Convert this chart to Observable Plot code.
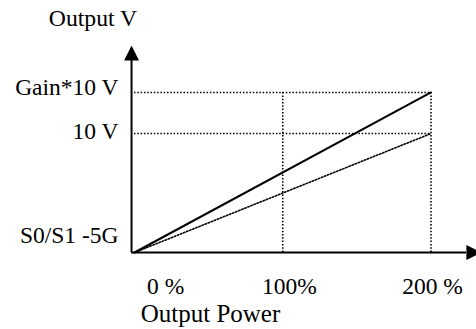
<!DOCTYPE html>
<html>
<head>
<meta charset="utf-8">
<script src="https://cdn.jsdelivr.net/npm/d3@7"></script>
<script src="https://cdn.jsdelivr.net/npm/@observablehq/plot@0.6"></script>
<style>
  html, body { margin: 0; padding: 0; background: white; }
</style>
</head>
<body>
<div id="chart"></div>
<script>
// ---- data ----
const powerPoints = [0, 200];          // Output power, %
const gainOutput = [0, 13.45];         // Output V with gain (solid line)
const normalOutput = [0, 10];          // Output V without gain (dotted line)
const yLevels = [13.45, 10];           // Gain*10 V, 10 V
const guideX = [100, 200];             // vertical guides, %
const xTickLabels = ["0 %", "100%", "200 %"];
const xLabelAt = [21, 104.5, 201];
const yTickLabels = ["Gain*10 V", "10 V", "S0/S1 -5G"];
const yLabelAt = [13.9, 10.2, 1.47];
const axisX = [-2, 234];
const axisY = [0, 17.4];
const yTitle = "Output V";
const xTitle = "Output Power";

const gainLine = powerPoints.map((p, i) => ({x: p, y: gainOutput[i]}));
const normalLine = powerPoints.map((p, i) => ({x: p, y: normalOutput[i]}));

const arrowHead = {
  draw(ctx) {
    ctx.moveTo(0, 0);
    ctx.lineTo(-7.5, 15);
    ctx.lineTo(7.5, 15);
    ctx.closePath();
  }
};

const dotted = {stroke: "black", strokeWidth: 1.6, strokeDasharray: "1.5,1.8"};
const serif = "Liberation Serif, Times New Roman, serif";

const chart = Plot.plot({
  width: 476,
  height: 329,
  marginLeft: 134,
  marginRight: 45.5,
  marginTop: 45,
  marginBottom: 77,
  x: {domain: [0, 200], axis: null},
  y: {domain: [0, 17.4], axis: null},
  style: {fontFamily: serif, background: "white", color: "black", overflow: "visible"},
  marks: [
    // guides
    Plot.ruleY(yLevels, {x1: 0, x2: powerPoints[1], ...dotted}),
    Plot.ruleX(guideX, {y1: 0, y2: yLevels[0], ...dotted}),
    // series
    Plot.line(normalLine, {x: "x", y: "y", ...dotted}),
    Plot.line(gainLine, {x: "x", y: "y", stroke: "black", strokeWidth: 2}),
    // axes
    Plot.ruleY([axisY[0]], {x1: axisX[0], x2: axisX[1] - 10, stroke: "black", strokeWidth: 2}),
    Plot.ruleX([axisX[0]], {y1: axisY[0], y2: axisY[1] - 0.8, stroke: "black", strokeWidth: 2}),
    Plot.dot([0], {x: axisX[0], y: axisY[1], symbol: arrowHead, r: 5, fill: "black", stroke: "none"}),
    Plot.dot([0], {x: axisX[1], y: axisY[0], symbol: arrowHead, r: 5, fill: "black", stroke: "none", rotate: 90}),
    // tick labels
    Plot.text(xTickLabels, {x: (d, i) => xLabelAt[i], frameAnchor: "bottom", dy: 33.5,
      textAnchor: "middle", lineAnchor: "middle", fontSize: 23.5, fill: "black"}),
    Plot.text(yTickLabels, {y: (d, i) => yLabelAt[i], frameAnchor: "left", dx: -16,
      textAnchor: "end", lineAnchor: "middle", fontSize: 23.5, fill: "black"}),
    // titles
    Plot.text([yTitle], {frameAnchor: "top-left", dx: -41.5, dy: -26.6,
      textAnchor: "middle", lineAnchor: "middle", fontSize: 23.7, fill: "black"}),
    Plot.text([xTitle], {frameAnchor: "bottom", dx: -72.25, dy: 61.5,
      textAnchor: "middle", lineAnchor: "middle", fontSize: 25, fill: "black"})
  ]
});
document.getElementById("chart").appendChild(chart);
</script>
</body>
</html>
